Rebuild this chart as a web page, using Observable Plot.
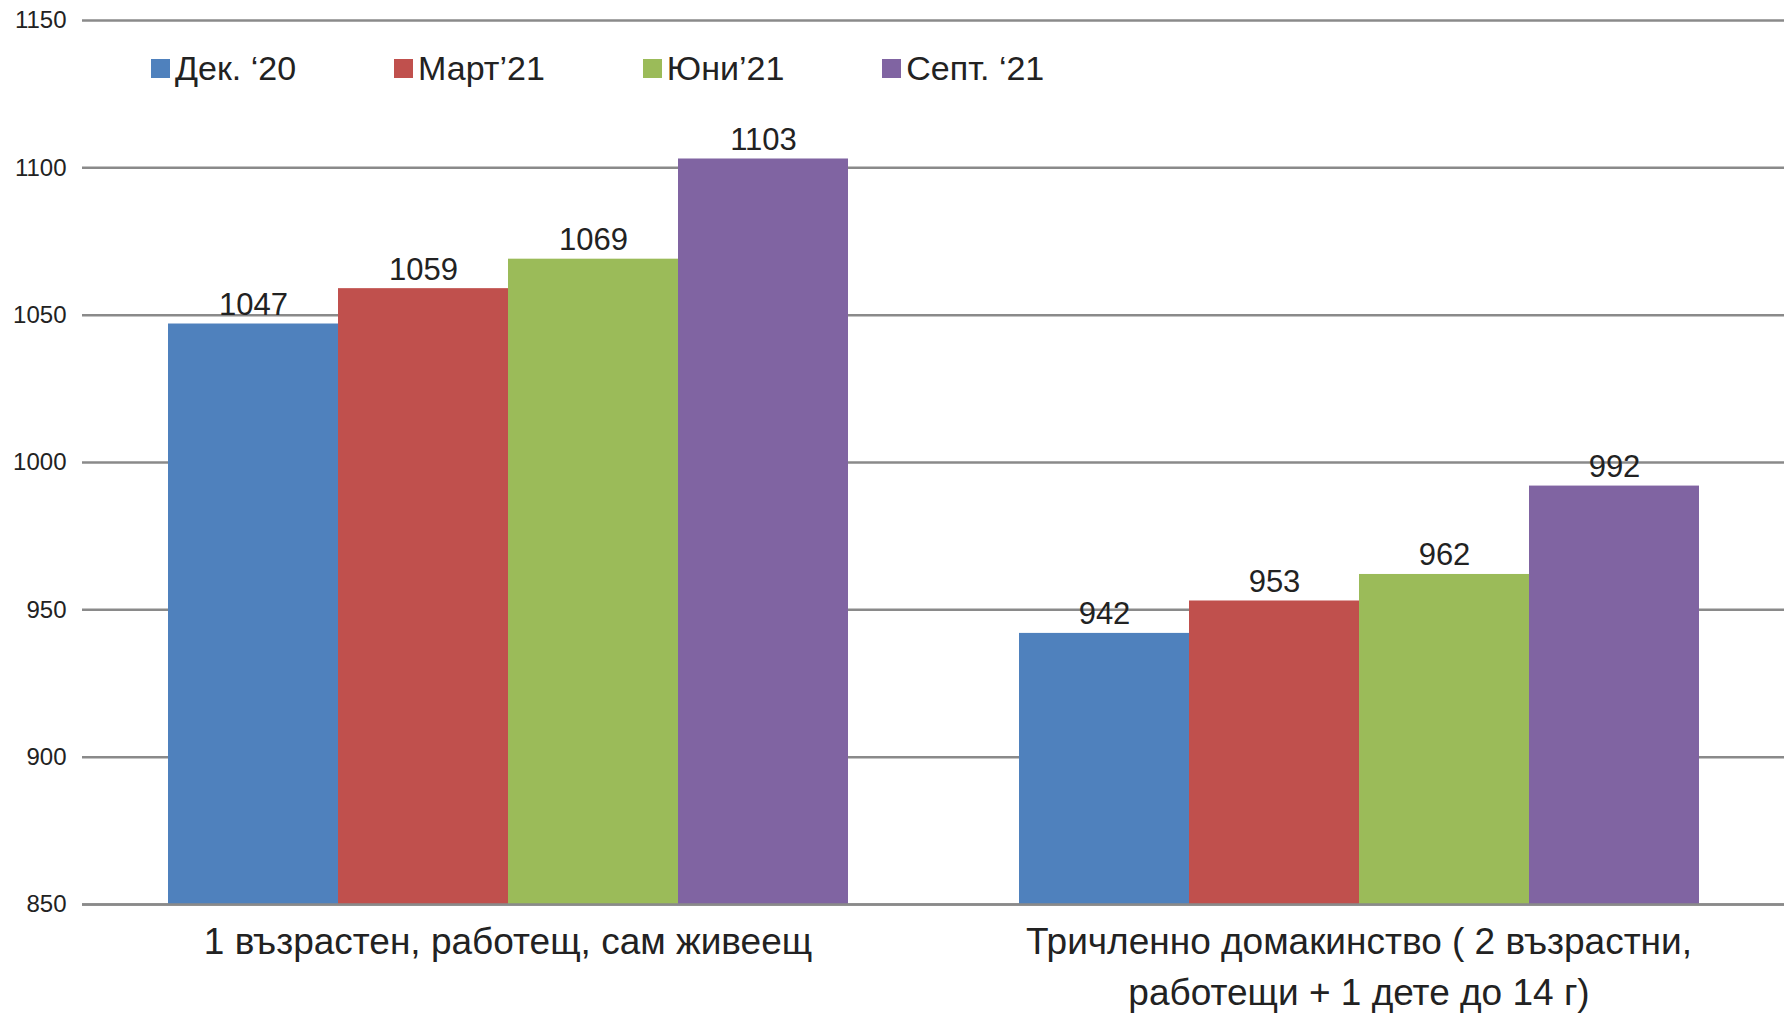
<!DOCTYPE html>
<html>
<head>
<meta charset="utf-8">
<script src="https://cdn.jsdelivr.net/npm/d3@7"></script>
<script src="https://cdn.jsdelivr.net/npm/@observablehq/plot@0.6"></script>
<style>
  html, body { margin: 0; padding: 0; background: #fff; }
  #wrap { position: relative; width: 1784px; height: 1015px; font-family: "Liberation Sans", Arial, sans-serif; color: #222; }
  #legend { position: absolute; left: 151px; top: 47px; display: flex; gap: 98px; font-size: 34px; line-height: 42px; z-index: 2; }
  .item { display: flex; align-items: center; white-space: nowrap; }
  .sw { width: 19px; height: 19px; margin-right: 5px; display: inline-block; }
</style>
</head>
<body>
<div id="wrap"><div id="legend"></div></div>
<script>
const categories = ["1 възрастен, работещ, сам живеещ", "Тричленно домакинство ( 2 възрастни, работещи + 1 дете до 14 г)"];
const categoryLabels = ["1 възрастен, работещ, сам живеещ", "Тричленно домакинство ( 2 възрастни,\nработещи + 1 дете до 14 г)"];
const series = ["Дек. ‘20", "Март’21", "Юни’21", "Септ. ‘21"];
const valuesSingle = [1047, 1059, 1069, 1103];
const valuesFamily = [942, 953, 962, 992];
const colors = ["#4F81BD", "#C0504D", "#9BBB59", "#8064A2"];
const yTicks = [850, 900, 950, 1000, 1050, 1100, 1150];

const valuesByCategory = [valuesSingle, valuesFamily];
const rows = [];
categories.forEach((c, ci) => series.forEach((s, si) => rows.push({category: c, series: s, value: valuesByCategory[ci][si]})));
const labelOf = new Map(categories.map((c, i) => [c, categoryLabels[i]]));
const yMin = yTicks[0], yMax = yTicks[yTicks.length - 1];

const chart = Plot.plot({
  width: 1784,
  height: 1015,
  marginTop: 20,
  marginBottom: 111,
  marginLeft: 81,
  marginRight: 0,
  style: {fontFamily: "Liberation Sans, Arial, sans-serif", color: "#222", background: "transparent"},
  fx: {domain: categories, padding: 0},
  x: {domain: series, paddingInner: 0, paddingOuter: 0.4934, axis: null},
  y: {domain: [yMin, yMax]},
  color: {domain: series, range: colors},
  marks: [
    Plot.ruleY(yTicks, {stroke: "#8a8a8a", strokeWidth: 2.5}),
    Plot.barY(rows, {fx: "category", x: "series", y1: yMin, y2: "value", fill: "series"}),
    Plot.ruleY([yMin], {stroke: "#8a8a8a", strokeWidth: 2.5}),
    Plot.text(rows, {fx: "category", x: "series", y: "value", text: d => String(d.value), lineAnchor: "bottom", dy: -9, fontSize: 31, fill: "#222"}),
    Plot.axisY({ticks: yTicks, tickSize: 0, tickPadding: 16, fontSize: 24, label: null, tickFormat: d => String(d)}),
    Plot.axisFx({anchor: "bottom", tickSize: 0, tickPadding: 14, fontSize: 37, lineHeight: 1.36, label: null, tickFormat: d => labelOf.get(d)})
  ]
});
document.getElementById("wrap").appendChild(chart);

const legend = document.getElementById("legend");
series.forEach((s, i) => {
  const it = document.createElement("div");
  it.className = "item";
  const sw = document.createElement("span");
  sw.className = "sw";
  sw.style.background = colors[i];
  it.appendChild(sw);
  it.appendChild(document.createTextNode(s));
  legend.appendChild(it);
});
</script>
</body>
</html>
